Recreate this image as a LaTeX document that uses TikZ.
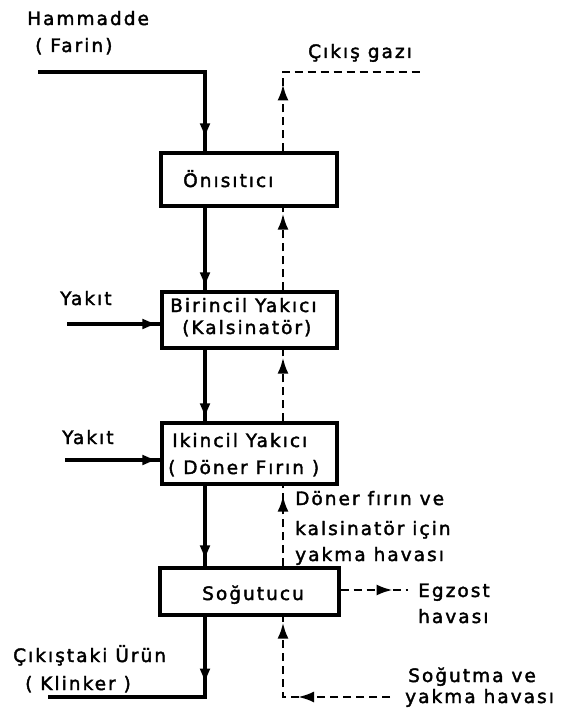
\documentclass[tikz,border=0pt]{standalone}
\usepackage{fontspec}
\setmainfont{DejaVu Sans}[LetterSpace=11,FakeBold=2]
\usetikzlibrary{arrows.meta,decorations.markings}
\begin{document}
\begin{tikzpicture}[x=1pt,y=-1pt,
  box/.style={draw,line width=3.2pt,inner sep=0pt},
  lbl/.style={anchor=base west,inner sep=0pt,font=\fontsize{18.5}{22}\selectfont},
  flow/.style={line width=4pt},
  gas/.style={line width=2.6pt,dash pattern=on 8pt off 5pt},
  tip/.tip={Latex[length=16pt,width=11pt]},
  tipat/.style={postaction={decorate},decoration={markings,mark=at position #1 with {\arrow{tip}}}},
  tiptwo/.style 2 args={postaction={decorate},decoration={markings,
     mark=at position #1 with {\arrow{tip}},
     mark=at position #2 with {\arrow{tip}}}}
]
\useasboundingbox (0,0) rectangle (569,714);
% boxes
\node[box,minimum width=176pt,minimum height=53pt] (pre) at (249,179.5) {};
\node[box,minimum width=175pt,minimum height=56pt] (cal) at (249.5,320) {};
\node[box,minimum width=175pt,minimum height=61pt] (kiln) at (249.5,453.5) {};
\node[box,minimum width=179pt,minimum height=47pt] (cool) at (249.5,591.5) {};
% box texts
\node[lbl] (tpre) at (183,187) {Önısıtıcı};
\node[lbl] (tcal1) at (170,312) {Birincil Yakıcı};
\node[lbl] (tcal2) at (182,334) {(Kalsinatör)};
\node[lbl] (tkiln1) at (172,447) {Ikincil Yakıcı};
\node[lbl] (tkiln2) at (168,474) {( Döner Fırın )};
\node[lbl] (tcool) at (202,600) {Soğutucu};
% outside texts
\node[lbl] (tfeed1) at (27,25) {Hammadde};
\node[lbl] (tfeed2) at (35,52) {( Farin)};
\node[lbl] (tgas) at (308,58) {Çıkış gazı};
\node[lbl] (tfuel1) at (60,305) {Yakıt};
\node[lbl] (tfuel2) at (62,444) {Yakıt};
\node[lbl] (tair1) at (295,505) {Döner fırın ve};
\node[lbl] (tair2) at (295,535) {kalsinatör için};
\node[lbl] (tair3) at (295,561) {yakma havası};
\node[lbl] (tex1) at (418,597) {Egzost};
\node[lbl] (tex2) at (418,623) {havası};
\node[lbl] (tcin1) at (408,682) {Soğutma ve};
\node[lbl] (tcin2) at (405,703) {yakma havası};
\node[lbl] (tprod1) at (13,662) {Çıkıştaki Ürün};
\node[lbl] (tprod2) at (25,690) {( Klinker )};
% reference columns and free ends
\coordinate (sx) at (205,0);
\coordinate (dx) at (283,0);
\coordinate (feedin) at (38,72);
\coordinate (gasout) at (422,72);
\coordinate (fuel1) at (67,324);
\coordinate (fuel2) at (65,460);
\coordinate (exout) at (408,590);
\coordinate (airin) at (390,697);
\coordinate (prodout) at (48,697);
% solid material flow
\draw[flow,tipat=-12pt] (feedin) -| (pre.north -| sx);
\draw[flow,tipat=-2pt] (pre.south -| sx) -- (cal.north -| sx);
\draw[flow,tipat=-2pt] (cal.south -| sx) -- (kiln.north -| sx);
\draw[flow,tipat=-5pt] (kiln.south -| sx) -- (cool.north -| sx);
\draw[flow,tipat=68pt] (cool.south -| sx) |- (prodout);
\draw[flow,tipat=-2pt] (fuel1) -- (cal.west |- fuel1);
\draw[flow,tipat=-2pt] (fuel2) -- (kiln.west |- fuel2);
% gas / air flow
\draw[gas,tipat=67pt] (pre.north -| dx) |- (gasout);
\draw[gas,tipat=-6pt] (cal.north -| dx) -- (pre.south -| dx);
\draw[gas,tipat=-8pt] (kiln.north -| dx) -- (cal.south -| dx);
\draw[gas,tipat=-10pt] (cool.north -| dx) -- (kiln.south -| dx);
\draw[gas,tipat=52pt] (cool.east |- exout) -- (exout);
\draw[gas,tiptwo={92pt}{-6pt}] (airin) -| (cool.south -| dx);
\end{tikzpicture}
\end{document}
